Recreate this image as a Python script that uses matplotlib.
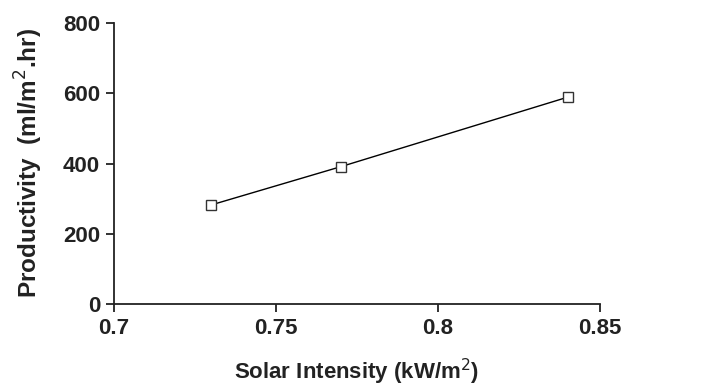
import matplotlib
matplotlib.use("Agg")
import matplotlib.pyplot as plt

# Datos
intensidad = [0.73, 0.77, 0.84]
productividad = [282, 391, 589]
xticks = [0.7, 0.75, 0.8, 0.85]
xtick_labels = ["0.7", "0.75", "0.8", "0.85"]
yticks = [0, 200, 400, 600, 800]

plt.rcParams["font.family"] = ["Liberation Sans", "DejaVu Sans"]

fig = plt.figure(figsize=(7.12, 3.87), dpi=100)
ax = fig.add_axes([0.160, 0.2145, 0.683, 0.726])

ax.plot(intensidad, productividad, color="black", linewidth=1.0,
        marker="s", markersize=7, markerfacecolor="white",
        markeredgecolor="#333333", markeredgewidth=1.0)

ax.set_xlim(0.7, 0.85)
ax.set_ylim(0, 800)
ax.set_xticks(xticks)
ax.set_xticklabels(xtick_labels)
ax.set_yticks(yticks)

for lado in ("top", "right"):
    ax.spines[lado].set_visible(False)
for lado in ("left", "bottom"):
    ax.spines[lado].set_linewidth(1.3)
    ax.spines[lado].set_color("#222222")

ax.tick_params(axis="both", direction="out", length=6, width=1.3,
               labelsize=16, colors="#222222", pad=4)
for etiqueta in ax.get_xticklabels() + ax.get_yticklabels():
    etiqueta.set_fontweight("bold")

ax.set_xlabel("Solar Intensity (kW/m$^2$)", fontsize=16, fontweight="bold",
              color="#222222", labelpad=13)
ax.set_ylabel("Productivity  (ml/m$^2$.hr)", fontsize=17.5, fontweight="bold",
              color="#222222", labelpad=13)

fig.savefig("out.png", dpi=100)
